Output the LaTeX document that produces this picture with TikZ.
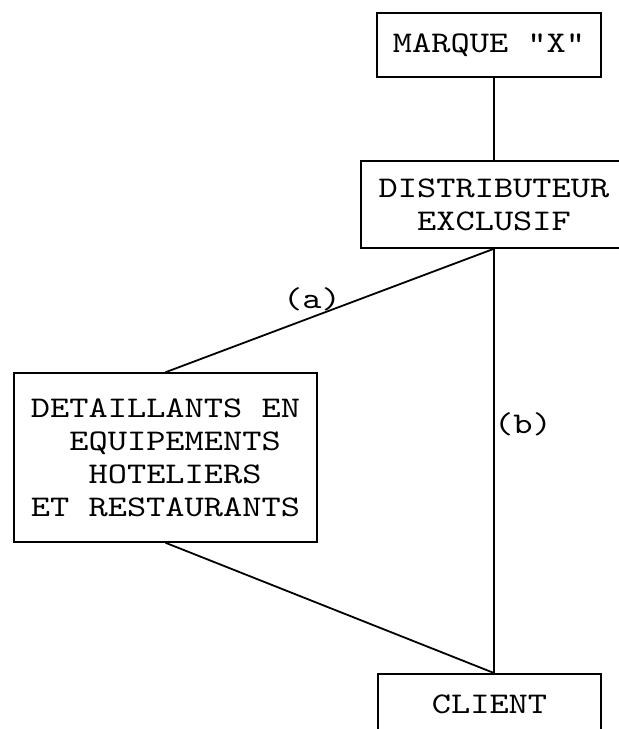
\documentclass[tikz,border=0pt]{standalone}
\usepackage{fontspec}
\usetikzlibrary{positioning,calc}
\newfontfamily\machine[FakeStretch=1.22]{lmmono10-regular.otf}
\tikzset{
  boite/.style={draw, line width=1.5pt, align=center, inner sep=0pt, font=\machine\fontsize{30}{33}\selectfont},
  trait/.style={line width=1.8pt},
  etiq/.style={font=\machine\fontsize{30}{33}\selectfont, inner sep=0pt},
}

\begin{document}
\begin{tikzpicture}[x=1pt, y=-1pt]
    \useasboundingbox (0,0) rectangle (619,729);
    % les boites
    \node[boite, minimum width=224pt, minimum height=64pt] (marque) at (489,45) {MARQUE "X"};
    \node[boite, minimum width=266pt, minimum height=87pt] (distrib) at (494,204.5) {DISTRIBUTEUR\\EXCLUSIF};
    \node[boite, minimum width=303pt, minimum height=169pt, align=left] (detail) at (165.5,457.5)
      {DETAILLANTS EN\\~~EQUIPEMENTS\\~~~HOTELIERS\\ET RESTAURANTS};
    \node[boite, minimum width=223pt, minimum height=62pt, anchor=north] (client) at (489.5,673) {CLIENT};
    \coordinate (bas) at (distrib.south |- client.north);

    % liaisons
    \draw[trait] (distrib.north |- marque.south) -- (distrib.north);
    \draw[trait] (distrib.south) -- (detail.north);
    \draw[trait] (distrib.south) -- (bas);
    \draw[trait] (detail.south) -- (bas);
    \node[etiq] (a) at (312,299) {(a)};
    \node[etiq] (b) at (523,424) {(b)};
\end{tikzpicture}
\end{document}
